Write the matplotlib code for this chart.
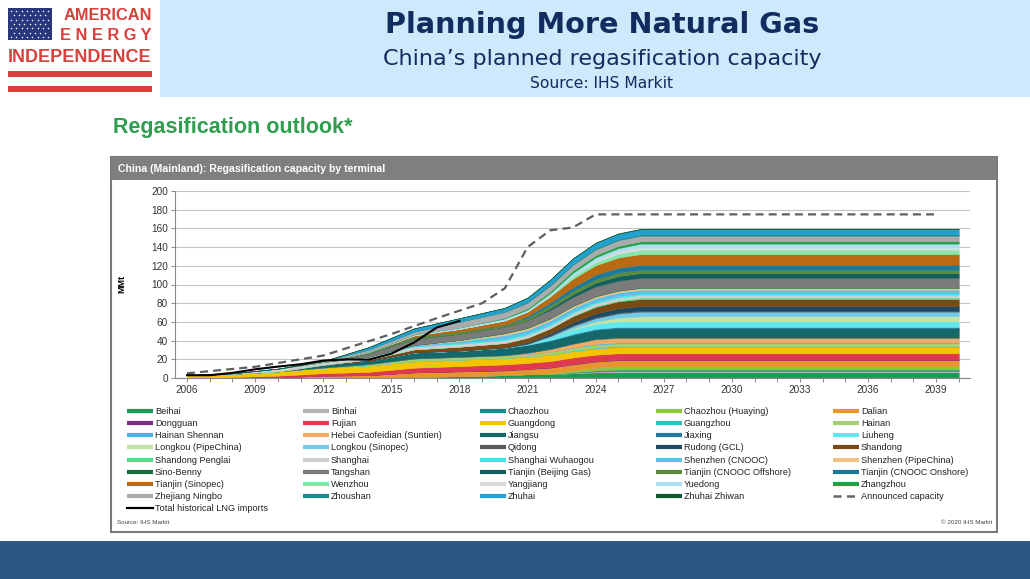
import matplotlib
matplotlib.use('Agg')
import matplotlib.pyplot as plt
from matplotlib.patches import Rectangle

plt.rcParams['font.family'] = ['Liberation Sans', 'DejaVu Sans']

# capacity (MMt) at these years, one row per terminal (stack order = legend order)
years = [2006, 2008, 2010, 2012, 2014, 2016, 2018, 2020, 2021, 2022, 2023, 2024, 2025, 2026, 2040]

terminals = [
    'Beihai', 'Binhai', 'Chaozhou', 'Chaozhou (Huaying)', 'Dalian',
    'Dongguan', 'Fujian', 'Guangdong', 'Guangzhou', 'Hainan',
    'Hainan Shennan', 'Hebei Caofeidian (Suntien)', 'Jiangsu', 'Jiaxing', 'Liuheng',
    'Longkou (PipeChina)', 'Longkou (Sinopec)', 'Qidong', 'Rudong (GCL)', 'Shandong',
    'Shandong Penglai', 'Shanghai', 'Shanghai Wuhaogou', 'Shenzhen (CNOOC)', 'Shenzhen (PipeChina)',
    'Sino-Benny', 'Tangshan', 'Tianjin (Beijing Gas)', 'Tianjin (CNOOC Offshore)', 'Tianjin (CNOOC Onshore)',
    'Tianjin (Sinopec)', 'Wenzhou', 'Yangjiang', 'Yuedong', 'Zhangzhou',
    'Zhejiang Ningbo', 'Zhoushan', 'Zhuhai', 'Zhuhai Zhiwan',
]

colors = [
    '#1f9a55', '#b3b3b3', '#1b8a8c', '#8cc63f', '#e8952e',
    '#7b2d83', '#e0394f', '#f2c500', '#2cc3c6', '#a6cf72',
    '#4bb0e2', '#f0aa62', '#16696a', '#2379a2', '#5fe9ef',
    '#c2e4a4', '#72cbe9', '#555a5e', '#1b4a66', '#7b4a14',
    '#52df8c', '#cfcfcf', '#40e6e8', '#5cc1e9', '#f1c283',
    '#1b6a3b', '#7b7b7b', '#135e5f', '#5c8b3b', '#1b7a9b',
    '#b96a12', '#80e8aa', '#dadada', '#abdff1', '#21a344',
    '#ababab', '#1b8a8c', '#21a1d1', '#0f5a2b',
]

capacity = [
    [0, 0, 0, 0, 0, 1, 2, 3, 4, 4, 5, 6, 6, 6, 6],
    [0, 0, 0, 0, 0, 0, 0, 0, 0, 0, 0.5, 1, 1.5, 1.5, 1.5],
    [0, 0, 0, 0, 0, 0, 0, 0, 0, 0, 0.5, 1, 1.5, 1.5, 1.5],
    [0, 0, 0, 0, 0, 0, 0, 0, 0, 1, 2, 3, 3.5, 3.5, 3.5],
    [0, 0, 0.5, 2.5, 3, 5, 5, 5, 5.5, 6, 6.5, 6.5, 6.5, 6.5, 6.5],
    [0, 0, 0, 0, 0, 0, 0.2, 0.5, 0.6, 0.6, 0.6, 0.6, 0.6, 0.6, 0.6],
    [0, 1, 2, 2.6, 3.5, 5, 5.5, 6, 6, 6.5, 6.8, 6.8, 6.8, 6.8, 6.8],
    [3, 3.5, 4.5, 6, 6.8, 6.8, 6.8, 6.8, 6.8, 6.8, 6.8, 6.8, 6.8, 6.8, 6.8],
    [0, 0, 0, 0, 0, 0, 0, 0, 0, 0, 0.5, 1, 1, 1, 1],
    [0, 0, 0, 0, 1.5, 3, 3, 3, 3, 3, 3, 3, 3, 3, 3],
    [0, 0, 0, 0, 0, 0, 0, 0, 0, 0, 0.4, 0.8, 0.8, 0.8, 0.8],
    [0, 0, 0, 0, 0, 0, 0, 0, 1, 3, 4, 5, 5, 5, 5],
    [0, 0, 0, 3, 3.5, 6.5, 6.5, 8, 8.5, 9, 9.5, 10, 10.5, 10.5, 10.5],
    [0, 0, 0, 0, 0, 0, 0, 0, 0, 0.5, 1, 1, 1, 1, 1],
    [0, 0, 0, 0, 0, 0, 0, 0, 1, 3, 5, 5.5, 6, 6, 6],
    [0, 0, 0, 0, 0, 0, 0, 0, 0, 0, 1, 2.5, 4, 5.5, 5.5],
    [0, 0, 0, 0, 0, 0, 0, 0, 0, 1.5, 2.5, 3.5, 4.5, 5, 5],
    [0, 0, 0, 0, 0, 0.3, 0.5, 0.6, 0.7, 0.8, 1, 1, 1, 1, 1],
    [0, 0, 0, 0, 0, 0, 0, 0, 1, 2, 3, 4, 4.5, 5, 5],
    [0, 0, 0, 0, 1.5, 3, 4, 4.5, 5, 5.5, 6.5, 7, 7.5, 7.5, 7.5],
    [0, 0, 0, 0, 0, 0, 0, 0, 0, 0, 0.5, 1, 1, 1.5, 1.5],
    [0, 0.5, 3, 3, 3, 3, 3, 3, 3, 3, 3, 3, 3, 3, 3],
    [0, 0, 0, 0, 0, 0.5, 1, 1.5, 1.5, 1.5, 1.5, 1.5, 1.5, 1.5, 1.5],
    [0, 0, 0, 0, 0, 1, 2, 4, 4, 4, 4, 4, 4, 4, 4],
    [0, 0, 0, 0, 0, 0, 1, 1.8, 1.8, 1.8, 1.8, 1.8, 1.8, 1.8, 1.8],
    [0, 0, 0, 0, 0, 0.3, 0.3, 0.7, 0.7, 0.7, 0.7, 0.7, 0.7, 0.7, 0.7],
    [0, 0, 0, 0, 3.5, 6.5, 6.5, 6.5, 7.5, 8.5, 9, 10, 10, 10, 10],
    [0, 0, 0, 0, 0, 0, 0, 0, 0, 2, 3, 4, 5, 5.3, 5.3],
    [0, 0, 0, 0, 1.2, 2.2, 2.2, 2.2, 2.5, 3, 3.6, 3.6, 3.6, 3.6, 3.6],
    [0, 0, 0, 0, 0, 0, 0, 0, 2, 3, 4, 5, 5.3, 5.3, 5.3],
    [0, 0, 0, 0, 0, 1.5, 3, 4.5, 5, 6.5, 9, 10, 11, 11.4, 11.4],
    [0, 0, 0, 0, 0, 0, 0, 0, 0, 1, 2.8, 3.5, 4, 4.7, 4.7],
    [0, 0, 0, 0, 0, 0, 0, 0, 0, 0, 0.5, 1.5, 2.5, 3, 3],
    [0, 0, 0, 0, 0, 1, 1.5, 2, 2, 2.5, 3, 3.4, 3.4, 3.4, 3.4],
    [0, 0, 0, 0, 0, 0, 0, 1, 1.5, 2, 2.5, 2.5, 2.5, 2.5, 2.5],
    [0, 0, 0, 1, 3, 3, 6, 6, 6, 6, 6, 6, 6, 6, 6],
    [0, 0, 0, 0, 0, 0, 0.5, 1, 1.5, 1.5, 1.5, 1.5, 1.5, 1.5, 1.5],
    [0, 0, 0, 0, 2.5, 3.5, 3.5, 3.5, 4, 5, 5.5, 5.5, 5.5, 5.5, 5.5],
    [0, 0, 0, 0, 0, 0, 0, 0, 0, 0, 0, 0.3, 0.5, 0.5, 0.5],
]

hist_years = [2006, 2007, 2008, 2009, 2010, 2011, 2012, 2013, 2014, 2015, 2016, 2017, 2018]
hist_imports = [3, 3, 5.5, 9.3, 12.2, 14.7, 18.6, 19.9, 19.6, 26, 38, 54, 61]

announced_years = [2006, 2009, 2012, 2015, 2017, 2018, 2019, 2020, 2021, 2022, 2023, 2024, 2039]
announced = [5, 12, 24, 47, 64, 72, 80, 96, 140, 158, 161, 175, 175]

x_ticks = list(range(2006, 2040, 3))

W, H = 1030, 579
fig = plt.figure(figsize=(W / 100, H / 100), dpi=100)

# page furniture drawn in pixel coordinates
bg = fig.add_axes([0, 0, 1, 1])
bg.set_xlim(0, W)
bg.set_ylim(H, 0)
bg.axis('off')

# header band + logo
bg.add_patch(Rectangle((160, 0), W - 160, 97, color='#cde9fb', lw=0))
bg.add_patch(Rectangle((8, 8), 44, 32, color='#28377e', lw=0))
for r in range(7):
    for c in range(8 if r % 2 == 0 else 7):
        bg.plot(11 + c * 5.3 + (2.6 if r % 2 else 0), 11 + r * 4.3, 'o', ms=1.1, color='white', mec='none')
red = '#d8403b'
bg.text(152, 15, 'AMERICAN', color=red, fontsize=11.8, fontweight='bold', ha='right', va='center')
bg.text(152, 35, 'E N E R G Y', color=red, fontsize=11.8, fontweight='bold', ha='right', va='center')
bg.text(80, 57, 'INDEPENDENCE', color=red, fontsize=13, fontweight='bold', ha='center', va='center')
bg.add_patch(Rectangle((8, 71), 144, 6, color=red, lw=0))
bg.add_patch(Rectangle((8, 86), 144, 6, color=red, lw=0))

navy = '#112c5e'
bg.text(602, 25, 'Planning More Natural Gas', color=navy, fontsize=20.7, fontweight='bold',
        ha='center', va='center', family='DejaVu Sans')
bg.text(602, 59, 'China\u2019s planned regasification capacity', color=navy, fontsize=16,
        ha='center', va='center', family='DejaVu Sans')
bg.text(602, 83, 'Source: IHS Markit', color=navy, fontsize=11.2, ha='center', va='center',
        family='DejaVu Sans')

bg.text(113, 127, 'Regasification outlook*', color='#2f9e4f', fontsize=15.5, fontweight='bold',
        ha='left', va='center')

# chart box
bg.add_patch(Rectangle((111, 157), 886, 375, fill=False, ec='#7a7a7a', lw=1.5))
bg.add_patch(Rectangle((111, 157), 886, 23, color='#7f7f7f', lw=0))
bg.text(118, 169, 'China (Mainland): Regasification capacity by terminal', color='white',
        fontsize=7.6, fontweight='bold', ha='left', va='center')
bg.text(122, 284, 'MMt', rotation=90, fontsize=6.5, fontweight='bold', ha='center', va='center')
bg.text(117, 522, 'Source: IHS Markit', fontsize=4.5, color='#444444', ha='left', va='center')
bg.text(992, 522, '\u00a9 2020 IHS Markit', fontsize=4.5, color='#444444', ha='right', va='center')

# bottom band
bg.add_patch(Rectangle((0, 541), W, H - 541, color='#2a5686', lw=0))

# legend (row-wise, 5 columns)
col_x = [127, 303, 480, 656, 833]
row_y0, row_dy = 411, 12.15
labels = terminals + ['Announced capacity', 'Total historical LNG imports']
for i, lab in enumerate(labels):
    r, c = divmod(i, 5)
    x0 = col_x[c]
    y = row_y0 + r * row_dy
    if i < len(terminals):
        bg.plot([x0, x0 + 26], [y, y], color=colors[i], lw=3, solid_capstyle='butt')
    elif lab == 'Announced capacity':
        bg.plot([x0, x0 + 26], [y, y], color='#666666', lw=1.8, dashes=(3.2, 2.2))
    else:
        bg.plot([x0, x0 + 26], [y, y], color='black', lw=1.6)
    bg.text(x0 + 28, y + 0.5, lab, fontsize=6.6, color='#222222', ha='left', va='center')

# main chart
ax = fig.add_axes([175 / W, (H - 378) / H, (970 - 175) / W, (378 - 191) / H])
polys = ax.stackplot(years, capacity, colors=colors, lw=0.3, zorder=2)
for p in polys:
    p.set_edgecolor(p.get_facecolor())
ax.plot(announced_years, announced, color='#5f5f5f', lw=1.6, dashes=(3.6, 2.3), zorder=3)
ax.plot(hist_years, hist_imports, color='black', lw=1.5, zorder=4)

ax.set_xlim(2005.47, 2040.49)
ax.set_ylim(0, 200)
ax.set_yticks(range(0, 201, 20))
ax.set_xticks(x_ticks)
ax.set_xticks(range(2006, 2041), minor=True)
ax.grid(axis='y', color='#c4c4c4', lw=0.8, zorder=0)
ax.set_axisbelow(True)
for s in ['top', 'right']:
    ax.spines[s].set_visible(False)
for s in ['left', 'bottom']:
    ax.spines[s].set_color('#8a8a8a')
    ax.spines[s].set_linewidth(0.8)
ax.tick_params(axis='both', which='both', colors='#8a8a8a', labelcolor='#333333',
               labelsize=7.2, length=3, width=0.7, pad=2)
ax.tick_params(axis='x', which='minor', length=3)

fig.savefig('out.png', dpi=100)
